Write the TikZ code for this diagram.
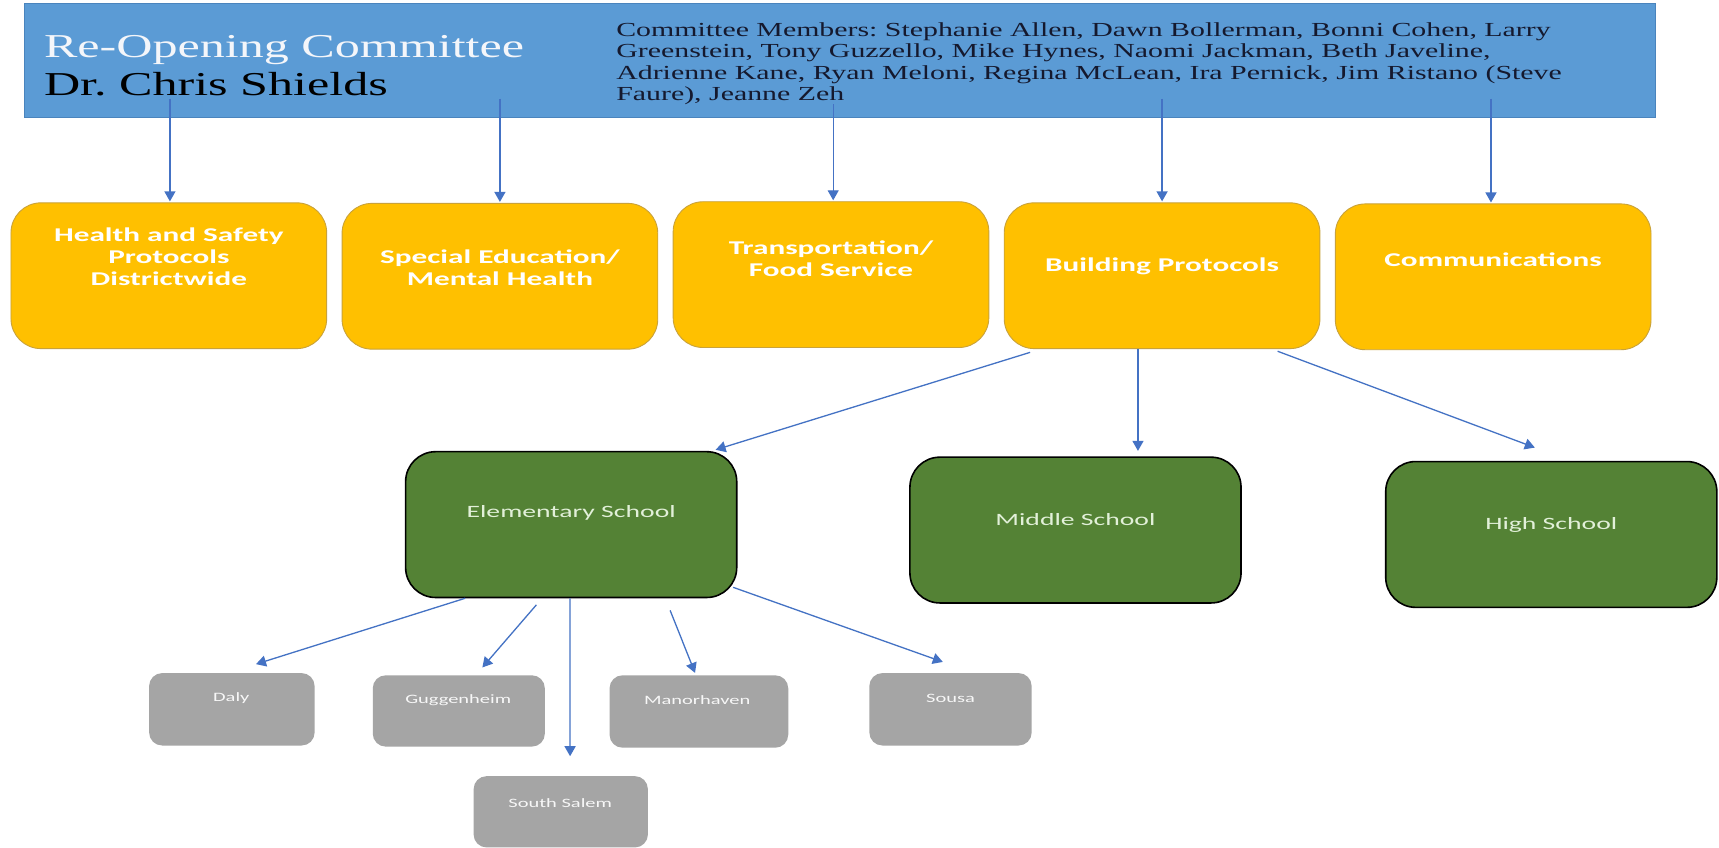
\documentclass[tikz,border=0pt]{standalone}
\usepackage{fontspec}
\setmainfont{Liberation Serif}[FakeStretch=1.5]
\newfontfamily\calfont{Carlito}[FakeStretch=1.6]
\usetikzlibrary{arrows.meta,calc}
\definecolor{bluefill}{HTML}{5B9BD5}
\definecolor{blueline}{HTML}{4A84BD}
\definecolor{arrowblue}{HTML}{4472C4}
\definecolor{orangefill}{HTML}{FFC000}
\definecolor{orangeline}{HTML}{C9A23A}
\definecolor{greenfill}{HTML}{548235}
\definecolor{greentext}{HTML}{E2F0D9}
\definecolor{grayfill}{HTML}{A5A5A5}
\definecolor{membertext}{HTML}{15192E}
\definecolor{titlewhite}{HTML}{F4F6FA}
\frenchspacing
\begin{document}
\begin{tikzpicture}[x=1.0963pt,y=-1.0963pt,
 headbox/.style={draw=blueline, line width=0.8pt, fill=bluefill, minimum width=1631.3pt, minimum height=114pt, inner sep=0pt},
 obox/.style={draw=orangeline, line width=0.9pt, fill=orangefill, rounded corners=30pt, minimum width=315.7pt, minimum height=145.8pt, inner sep=0pt},
 gbox/.style={draw=black, line width=1.6pt, fill=greenfill, rounded corners=30pt, minimum width=331.1pt, minimum height=145.8pt, inner sep=0pt},
 sbox/.style={fill=grayfill, rounded corners=13pt, inner sep=0pt},
 otext/.style={text=white, font=\calfont\bfseries\fontsize{19.5}{22}\selectfont, align=center, inner sep=0pt},
 gtext/.style={text=greentext, font=\calfont\fontsize{17.3}{20}\selectfont, inner sep=0pt},
 stext/.style={text=white!94!gray, font=\calfont\fontsize{12.8}{15}\selectfont, inner sep=0pt},
 arr/.style={draw=arrowblue, line width=1.3pt, -{Triangle[width=11pt,length=10pt]}}
]
\useasboundingbox (0,0) rectangle (1568,773);
\fill[white] (0,0) rectangle (1568,773);

% header
\node[headbox] (head) at (766,55) {};
\node[anchor=west, inner sep=0pt, text=titlewhite, font=\fontsize{33.4}{35}\selectfont] (title) at (40,46) {Re-Opening Committee};
\node[anchor=west, inner sep=0pt, text=black, font=\fontsize{33.4}{35}\selectfont] (chair) at (40,77) {Dr. Chris Shields};
\node[anchor=base west, inner sep=0pt, text=membertext, align=left, font=\fontsize{19.9}{21.2}\selectfont] (members) at (562,91.5)
 {Committee Members: Stephanie Allen, Dawn Bollerman, Bonni Cohen, Larry\\
  Greenstein, Tony Guzzello, Mike Hynes, Naomi Jackman, Beth Javeline,\\
  Adrienne Kane, Ryan Meloni, Regina McLean, Ira Pernick, Jim Ristano (Steve\\
  Faure), Jeanne Zeh};

% orange boxes
\node[obox] (hsp) at (154,251.5) {};
\node[obox] (sped) at (456,252) {};
\node[obox] (trans) at (758,250.5) {};
\node[obox] (bp) at (1060,251.5) {};
\node[obox] (comm) at (1362,252.5) {};
\node[otext] (thsp) at (154,234) {Health and Safety\\Protocols\\Districtwide};
\node[otext] (tsped) at (456,244) {Special Education/\\Mental Health};
\node[otext] (ttrans) at (758,236) {Transportation/\\Food Service};
\node[otext] (tbp) at (1060,243) {Building Protocols};
\node[otext] (tcomm) at (1362,237) {Communications};

% green boxes
\node[gbox] (el) at (521,478.5) {};
\node[gbox] (ms) at (981,483.5) {};
\node[gbox] (hs) at (1415,487.5) {};
\node[gtext] (tel) at (521,468) {Elementary School};
\node[gtext] (tms) at (981,474) {Middle School};
\node[gtext] (ths) at (1415,479) {High School};

% gray boxes
\node[sbox, minimum width=165.5pt, minimum height=72.4pt] (daly) at (211.5,647) {};
\node[sbox, minimum width=172.1pt, minimum height=71.3pt] (gug) at (418.5,648.5) {};
\node[sbox, minimum width=178.7pt, minimum height=72.4pt] (mh) at (637.5,649) {};
\node[sbox, minimum width=162.3pt, minimum height=72.4pt] (sousa) at (867,647) {};
\node[sbox, minimum width=174.3pt, minimum height=71.3pt] (ss) at (511.5,740.5) {};
\node[stext] (tdaly) at (211,637) {Daly};
\node[stext] (tgug) at (418,639) {Guggenheim};
\node[stext] (tmh) at (636,639) {Manorhaven};
\node[stext] (tsousa) at (867,637) {Sousa};
\node[stext] (tss) at (511,733) {South Salem};

% arrows from header
\coordinate (s1) at (155,90);
\coordinate (s2) at (456,90);
\coordinate (s3) at (760,95);
\coordinate (s4) at (1060,90);
\coordinate (s5) at (1360,90);
\draw[arr, shorten >=1pt] (s1) -- (s1 |- hsp.north);
\draw[arr, shorten >=1pt] (s2) -- (s2 |- sped.north);
\draw[arr, shorten >=1pt] (s3) -- (s3 |- trans.north);
\draw[arr, shorten >=1pt] (s4) -- (s4 |- bp.north);
\draw[arr, shorten >=1pt] (s5) -- (s5 |- comm.north);

% arrows from Building Protocols
\draw[arr] ($(bp.south west)+(24,3)$) -- ($(el.north east)+(-20,-1)$);
\draw[arr] ($(bp.south)+(-22,0)$) -- ($(ms.north)+(57,-5)$);
\draw[arr] ($(bp.south east)+(-39,2)$) -- ($(hs.north)+(-15,-12)$);

% arrows from Elementary School
\draw[arr] ($(el.south west)+(55,0)$) -- ($(daly.north)+(22,-8)$);
\draw[arr] ($(el.south west)+(120,6)$) -- ($(gug.north)+(21.5,-7)$);
\draw[arr] ($(el.south)+(-1,0)$) -- ($(ss.north)+(8.5,-18)$);
\draw[arr] ($(el.south west)+(242,11)$) -- ($(mh.north)+(-3.5,-2)$);
\draw[arr] ($(el.south east)+(-4,-10)$) -- ($(sousa.north)+(-7,-10)$);
\end{tikzpicture}
\end{document}
